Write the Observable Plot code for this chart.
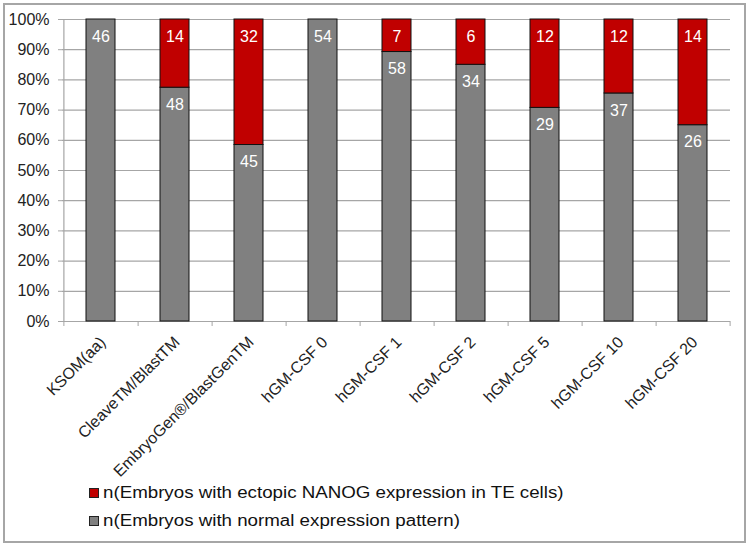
<!DOCTYPE html>
<html>
<head>
<meta charset="utf-8">
<script src="https://cdn.jsdelivr.net/npm/d3@7"></script>
<script src="https://cdn.jsdelivr.net/npm/@observablehq/plot@0.6"></script>
<style>
  body { margin: 0; background: #fff; font-family: "Liberation Sans", Arial, sans-serif; }
  #frame { position: absolute; left: 3px; top: 3px; width: 743px; height: 540px; border: 2px solid #a6a6a6; box-sizing: border-box; }
  #chart { position: absolute; left: 0; top: 0; }
  #legend { position: absolute; left: 89px; top: 479px; font-size: 16px; color: #111; }
  .item { display: flex; align-items: center; height: 28px; }
  .sw { width: 8px; height: 8px; border: 1px solid #222; margin-right: 4px; }
  .lt { display: inline-block; transform: scaleX(1.17); transform-origin: left center; }
</style>
</head>
<body>
<div id="frame"></div>
<div id="chart"></div>
<div id="legend"></div>
<script>
const categories = ["KSOM(aa)", "CleaveTM/BlastTM", "EmbryoGen®/BlastGenTM", "hGM-CSF 0", "hGM-CSF 1", "hGM-CSF 2", "hGM-CSF 5", "hGM-CSF 10", "hGM-CSF 20"];
const normalCounts = [46, 48, 45, 54, 58, 34, 29, 37, 26];
const ectopicCounts = [0, 14, 32, 0, 7, 6, 12, 12, 14];
const seriesNames = ["n(Embryos with normal expression pattern)", "n(Embryos with ectopic NANOG expression in TE cells)"];
const seriesColors = ["#808080", "#c00000"];
const yTicks = [0, 0.1, 0.2, 0.3, 0.4, 0.5, 0.6, 0.7, 0.8, 0.9, 1.0];

const data = [];
categories.forEach((c, i) => {
  data.push({cat: c, series: seriesNames[0], n: normalCounts[i]});
  data.push({cat: c, series: seriesNames[1], n: ectopicCounts[i]});
});
const labelData = data.filter(d => d.n > 0);

const W = 750, H = 480, mL = 62, mR = 20, mT = 19, mB = 159;
const step = (W - mL - mR) / categories.length;

const stackOpts = {x: "cat", y: "n", z: "series", offset: "normalize", order: seriesNames};

const chart = Plot.plot({
  width: W, height: H,
  marginLeft: mL, marginRight: mR, marginTop: mT, marginBottom: mB,
  style: {fontFamily: "'Liberation Sans', Arial, sans-serif", fontSize: "16px", color: "#222", background: "transparent"},
  x: {domain: categories, paddingInner: 0.61, paddingOuter: 0.305, label: null},
  y: {domain: [0, 1], label: null},
  color: {domain: seriesNames, range: seriesColors},
  marks: [
    Plot.ruleY(yTicks, {stroke: "#a6a6a6", strokeWidth: 1.2}),
    Plot.ruleX([categories[0]], {dx: -step / 2, y1: 0, y2: 1, stroke: "#a6a6a6", strokeWidth: 1.2}),
    Plot.barY(data, Plot.stackY({...stackOpts, fill: "series", stroke: "#111", strokeWidth: 1})),
    Plot.text(labelData, Plot.stackY2({...stackOpts, text: "n", fill: "white", dy: 17, fontSize: 16})),
    Plot.axisY({ticks: yTicks, tickFormat: d => Math.round(d * 100) + "%", tickSize: 4, tickPadding: 9, stroke: "#a6a6a6", fill: "#222", fontSize: 16}),
    Plot.axisX({ticks: categories, tickSize: 5, dx: step / 2, tickFormat: () => "", stroke: "#a6a6a6"}),
    Plot.axisX({ticks: [categories[0]], tickSize: 5, dx: -step / 2, tickFormat: () => "", stroke: "#a6a6a6"}),
    Plot.axisX({ticks: categories, tickSize: 0, tickRotate: -45, tickPadding: 13, dx: 2, dy: 5, fill: "#222", fontSize: 16})
  ]
});
document.getElementById("chart").appendChild(chart);

const legend = document.getElementById("legend");
[1, 0].forEach(i => {
  const item = document.createElement("div");
  item.className = "item";
  const sw = document.createElement("span");
  sw.className = "sw";
  sw.style.background = seriesColors[i];
  const t = document.createElement("span");
  t.className = "lt";
  t.textContent = seriesNames[i];
  item.appendChild(sw); item.appendChild(t);
  legend.appendChild(item);
});
</script>
</body>
</html>
